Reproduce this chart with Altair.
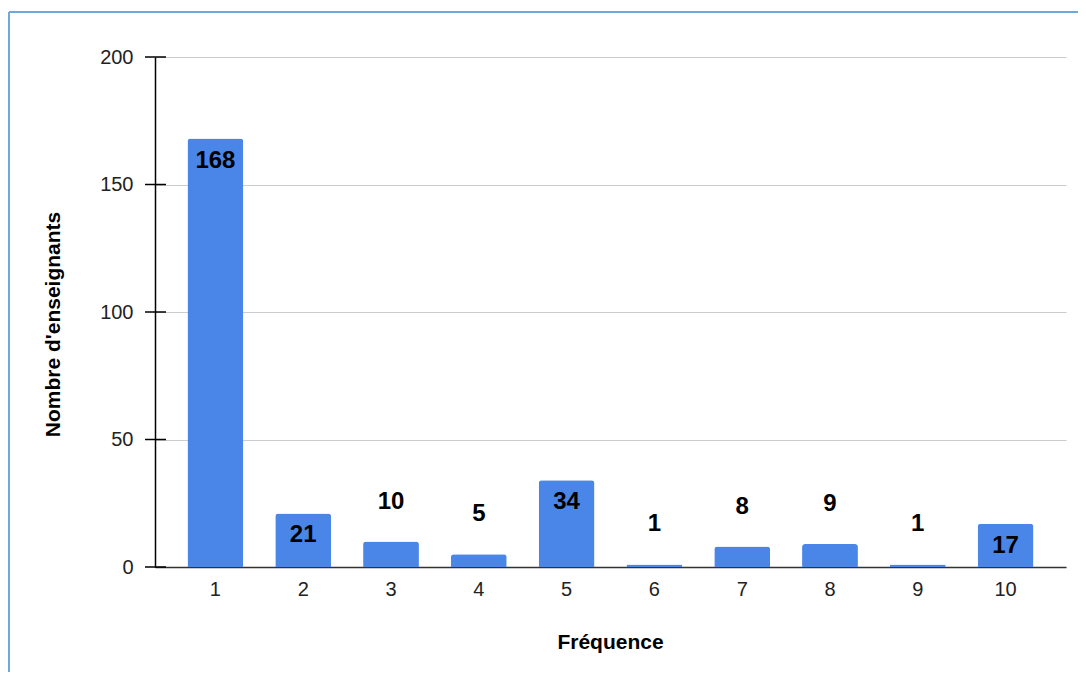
import altair as alt
import pandas as pd

frequences = ["1", "2", "3", "4", "5", "6", "7", "8", "9", "10"]
enseignants = [168, 21, 10, 5, 34, 1, 8, 9, 1, 17]
y_ticks = [0, 50, 100, 150, 200]

df = pd.DataFrame({"freq": frequences, "n": enseignants})
ticks_df = pd.DataFrame({"t": y_ticks})

FONT = "Liberation Sans"
BLUE = "#4a86e8"

x_enc = alt.X(
    "freq:N",
    sort=frequences,
    scale=alt.Scale(paddingInner=0.364, paddingOuter=0.37),
    axis=alt.Axis(
        title="Fréquence",
        labelAngle=0,
        ticks=False,
        labelPadding=12,
        labelFontSize=20,
        labelColor="#222222",
        labelFont=FONT,
        domainColor="#333333",
        domainWidth=1.5,
        titleFont=FONT,
        titleFontSize=21,
        titleFontWeight="bold",
        titleColor="#000000",
        titleX=455,
        titleY=75,
        titleBaseline="middle",
        titleAlign="center",
    ),
)

y_scale = alt.Scale(domain=[0, 200], nice=False)

bars = alt.Chart(df).mark_bar(
    color=BLUE, cornerRadiusTopLeft=3, cornerRadiusTopRight=3
).encode(
    x=x_enc,
    y=alt.Y(
        "n:Q",
        scale=y_scale,
        axis=alt.Axis(
            title="Nombre d'enseignants",
            values=y_ticks,
            ticks=False,
            grid=True,
            gridColor="#cccccc",
            gridWidth=1.2,
            domainColor="#000000",
            domainWidth=1.5,
            labelPadding=22,
            labelFontSize=20,
            labelColor="#222222",
            labelFont=FONT,
            titleFont=FONT,
            titleFontSize=21,
            titleFontWeight="bold",
            titleColor="#000000",
            titleAngle=-90,
            titleX=-102,
            titleY=267,
            titleAlign="center",
            titleBaseline="middle",
        ),
    ),
)

labels_in = alt.Chart(df).transform_filter("datum.n >= 15").mark_text(
    font=FONT, fontSize=24, fontWeight="bold", color="#000000",
    baseline="middle", dy=22
).encode(
    x=alt.X("freq:N", sort=frequences),
    y=alt.Y("n:Q", scale=y_scale),
    text="n:Q",
)

labels_out = alt.Chart(df).transform_filter("datum.n < 15").mark_text(
    font=FONT, fontSize=24, fontWeight="bold", color="#000000",
    baseline="middle", dy=-40
).encode(
    x=alt.X("freq:N", sort=frequences),
    y=alt.Y("n:Q", scale=y_scale),
    text="n:Q",
)

tick_rules = alt.Chart(ticks_df).mark_rule(color="#000000", strokeWidth=1.5).encode(
    y=alt.Y("t:Q", scale=y_scale),
    x=alt.value(-10),
    x2=alt.value(11),
)

one = pd.DataFrame({"a": [0]})
frame_top = alt.Chart(one).mark_rule(color="#6fa8dc", strokeWidth=2).encode(
    x=alt.value(-146), x2=alt.value(1000), y=alt.value(-45)
)
frame_left = alt.Chart(one).mark_rule(color="#6fa8dc", strokeWidth=2).encode(
    x=alt.value(-146), y=alt.value(-45), y2=alt.value(700)
)

chart = alt.layer(
    bars, labels_in, labels_out, tick_rules, frame_top, frame_left
).resolve_scale(x="shared", y="shared").properties(
    width=911,
    height=510,
    autosize=alt.AutoSizeParams(type="none"),
    padding={"left": 147, "top": 49, "right": 12, "bottom": 105},
    background="#ffffff",
).configure_view(stroke=None)

chart.save("out.html", embed_options={"renderer": "svg", "actions": False})
